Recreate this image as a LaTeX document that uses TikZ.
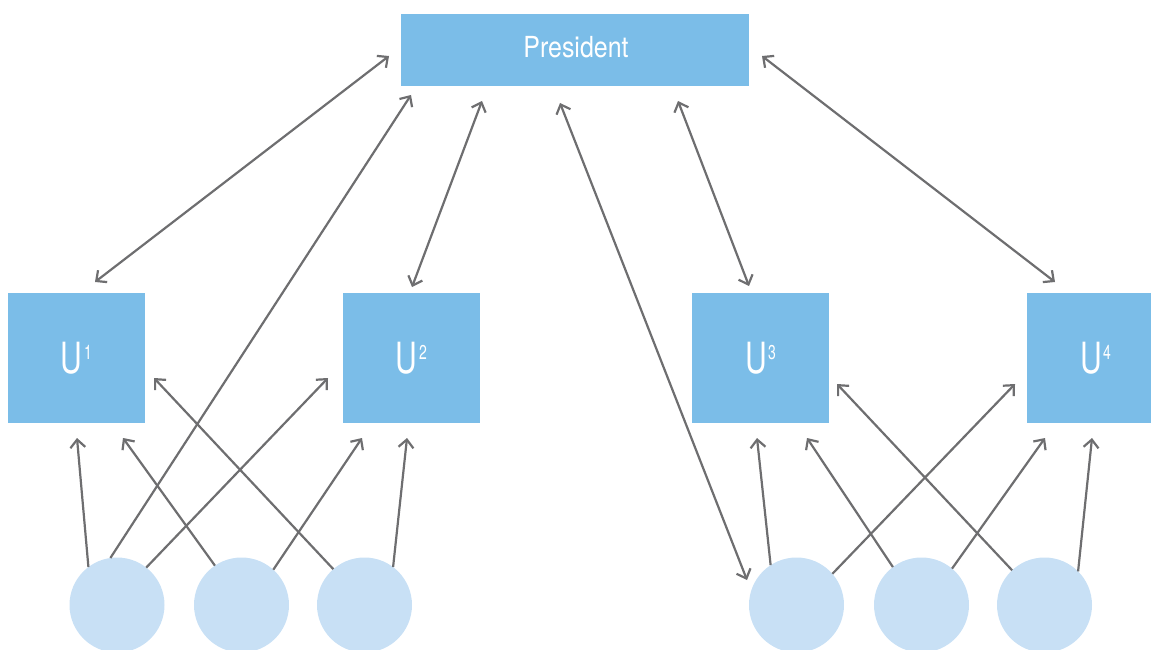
\documentclass[tikz,border=0pt]{standalone}
\usepackage{fontspec}
\newfontfamily\titlefont[FakeStretch=0.86]{TeX Gyre Heros}
\newfontfamily\unitfont[FakeStretch=0.7]{TeX Gyre Heros}
\usetikzlibrary{arrows.meta}
\definecolor{boxblue}{HTML}{7BBDE8}
\definecolor{dotblue}{HTML}{C8E0F5}
\definecolor{linkgray}{HTML}{6E6E70}
\newcommand{\unitlabel}[1]{{\fontsize{43}{43}\selectfont U}\kern1.5pt\raisebox{14pt}{\fontsize{20}{20}\selectfont #1}}

\begin{document}
\begin{tikzpicture}[x=1pt, y=-1pt,
    unitbox/.style={fill=boxblue, minimum width=137pt, minimum height=130pt, inner sep=0pt, outer sep=0pt, text=white, font=\unitfont},
    member/.style={circle, fill=dotblue, minimum size=95pt, inner sep=0pt, outer sep=0pt},
    link/.style={draw=linkgray, line width=2.2pt, -{Straight Barb[length=8pt,width=15pt]}},
    both/.style={link, {Straight Barb[length=8pt,width=15pt]}-{Straight Barb[length=8pt,width=15pt]}}]
    \clip (0,0) rectangle (1151,650);

    \node[fill=boxblue, minimum width=348pt, minimum height=72pt, inner sep=0pt, outer sep=0pt] (president) at (575,50) {};
    \node[text=white, font=\titlefont\fontsize{29}{29}\selectfont] (presname) at (576,47) {President};

    \node[unitbox] (u1) at (76.5,358) {\unitlabel{1}};
    \node[unitbox] (u2) at (411.5,358) {\unitlabel{2}};
    \node[unitbox] (u3) at (760.5,358) {\unitlabel{3}};
    \node[unitbox] (u4) at (1095.5,358) {\unitlabel{4}};

    \node[member] (c1) at (117,605) {};
    \node[member] (c2) at (241.5,605) {};
    \node[member] (c3) at (364.5,605) {};
    \node[member] (c4) at (796.5,605) {};
    \node[member] (c5) at (921.5,605) {};
    \node[member] (c6) at (1044.5,605) {};

    % left group
    \draw[link] (c1.127) -- ([shift={(0.5,15)}]u1.south);
    \draw[link] (c1.98) -- ([shift={(10,9)}]president.south west);
    \draw[link] (c1.52) -- ([shift={(-15,20)}]u2.west);
    \draw[link] (c2.124) -- ([shift={(46.5,15)}]u1.south);
    \draw[link] (c2.48) -- ([shift={(-49.5,15)}]u2.south);
    \draw[link] (c3.131) -- ([shift={(9,20)}]u1.east);
    \draw[link] (c3.53) -- ([shift={(-4.5,15)}]u2.south);

    % right group
    \draw[link] (c4.123) -- ([shift={(-3.5,15)}]u3.south);
    \draw[link] (c4.41) -- ([shift={(-12,26)}]u4.west);
    \draw[link] (c5.127) -- ([shift={(46.5,15)}]u3.south);
    \draw[link] (c5.50) -- ([shift={(-50.5,15)}]u4.south);
    \draw[link] (c6.133) -- ([shift={(8,26)}]u3.east);
    \draw[link] (c6.45) -- ([shift={(-3.5,15)}]u4.south);

    % president links
    \draw[both] ([shift={(-12,6)}]president.west) -- ([shift={(18.5,-11)}]u1.north);
    \draw[both] ([shift={(-93,15)}]president.south) -- ([shift={(0.5,-6)}]u2.north);
    \draw[both] ([shift={(103,15)}]president.south) -- ([shift={(-11.5,-7)}]u3.north);
    \draw[both] ([shift={(13,6)}]president.east) -- ([shift={(-40.5,-11)}]u4.north);
    \draw[both] ([shift={(-15,17)}]president.south) -- ([shift={(-49.5,-25)}]c4.center);
\end{tikzpicture}
\end{document}
